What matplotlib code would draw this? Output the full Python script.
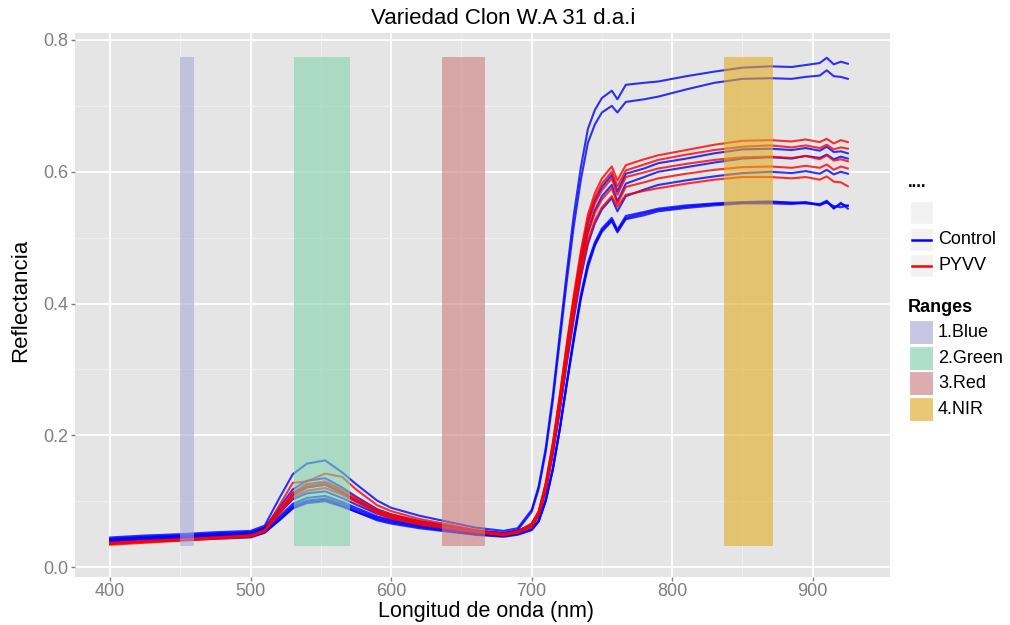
import matplotlib
matplotlib.use("Agg")
import matplotlib.pyplot as plt
from matplotlib.patches import Rectangle
from matplotlib.lines import Line2D

plt.rcParams['font.family'] = ['Liberation Sans', 'DejaVu Sans']

# wavelengths (nm) shared by every spectrum
wl = [400, 425, 450, 475, 500, 510, 520, 530, 540, 553, 565, 575, 590, 600, 620,
      640, 660, 680, 690, 700, 705, 710, 715, 720, 725, 730, 735, 740, 745, 750,
      757, 761, 767, 780, 790, 810, 830, 850, 870, 885, 895, 905, 910, 915, 920, 925]

# Control spectra
control = [
    [.045, .048, .050, .053, .055, .063, .103, .141, .157, .162, .144, .126, .101, .090, .078,
     .069, .060, .055, .059, .087, .123, .181, .260, .354, .448, .535, .607, .665, .694, .712,
     .723, .710, .732, .735, .737, .745, .752, .758, .760, .759, .762, .765, .773, .763, .767, .764],
    [.042, .045, .047, .050, .052, .060, .089, .118, .131, .135, .121, .107, .088, .080, .070,
     .063, .056, .052, .056, .084, .119, .175, .252, .343, .434, .518, .588, .644, .672, .690,
     .700, .690, .706, .710, .714, .725, .735, .741, .742, .741, .744, .746, .754, .745, .744, .741],
    [.040, .043, .045, .048, .050, .058, .084, .110, .121, .125, .113, .102, .085, .078, .068,
     .061, .054, .050, .054, .066, .083, .125, .184, .256, .333, .405, .470, .524, .556, .577,
     .595, .570, .597, .605, .613, .620, .628, .634, .635, .633, .636, .632, .638, .630, .631, .628],
    [.043, .046, .048, .051, .053, .060, .081, .103, .112, .115, .105, .095, .081, .075, .067,
     .061, .055, .051, .055, .064, .081, .122, .180, .249, .325, .394, .458, .510, .542, .563,
     .580, .555, .582, .592, .600, .607, .614, .620, .622, .620, .624, .621, .626, .619, .623, .620],
    [.041, .044, .046, .048, .050, .057, .076, .096, .105, .108, .099, .090, .077, .072, .064,
     .059, .053, .050, .054, .062, .078, .115, .170, .236, .309, .377, .440, .490, .522, .543,
     .560, .540, .563, .573, .580, .587, .593, .598, .600, .598, .601, .597, .603, .596, .600, .597],
    [.038, .041, .043, .045, .046, .053, .070, .089, .097, .100, .092, .084, .073, .068, .061,
     .055, .050, .047, .050, .057, .070, .101, .148, .209, .279, .347, .410, .458, .490, .511,
     .527, .510, .530, .537, .542, .547, .551, .553, .554, .553, .552, .551, .556, .545, .551, .548],
    [.036, .039, .041, .043, .045, .052, .071, .090, .099, .102, .093, .084, .071, .066, .059,
     .054, .049, .046, .049, .056, .069, .100, .147, .209, .280, .350, .413, .462, .493, .514,
     .530, .512, .533, .539, .544, .549, .552, .554, .555, .553, .554, .550, .553, .548, .546, .549],
    [.039, .042, .044, .046, .047, .054, .073, .093, .101, .104, .096, .087, .075, .070, .062,
     .057, .051, .048, .051, .058, .071, .102, .149, .210, .278, .344, .407, .455, .488, .509,
     .525, .508, .528, .534, .540, .545, .549, .552, .552, .551, .553, .549, .555, .544, .553, .544],
]

# PYVV spectra
pyvv = [
    [.036, .039, .042, .045, .048, .056, .092, .128, .130, .142, .137, .118, .094, .085, .073,
     .065, .056, .050, .054, .066, .085, .128, .188, .261, .340, .413, .480, .535, .568, .590,
     .608, .587, .610, .619, .625, .633, .641, .647, .648, .646, .649, .645, .650, .643, .648, .645],
    [.035, .038, .041, .044, .047, .055, .084, .113, .126, .130, .118, .105, .087, .080, .069,
     .061, .054, .049, .053, .065, .084, .126, .186, .258, .336, .408, .474, .528, .561, .582,
     .600, .578, .602, .611, .618, .626, .633, .638, .640, .637, .640, .636, .641, .634, .637, .635],
    [.036, .039, .041, .044, .047, .055, .082, .109, .121, .125, .113, .100, .083, .076, .066,
     .060, .053, .049, .053, .064, .083, .124, .183, .254, .330, .401, .466, .519, .552, .572,
     .590, .565, .592, .599, .605, .612, .618, .622, .623, .621, .624, .619, .625, .617, .619, .616],
    [.037, .040, .042, .045, .048, .055, .080, .106, .116, .120, .110, .099, .084, .078, .068,
     .061, .054, .050, .054, .063, .081, .121, .178, .247, .322, .391, .454, .506, .538, .558,
     .575, .552, .577, .584, .590, .597, .603, .607, .608, .606, .609, .606, .611, .603, .608, .605],
    [.034, .037, .040, .043, .046, .054, .083, .111, .124, .128, .115, .101, .082, .074, .065,
     .059, .053, .048, .052, .061, .079, .118, .175, .242, .315, .383, .445, .495, .526, .546,
     .563, .547, .565, .571, .575, .582, .588, .592, .592, .590, .592, .588, .593, .585, .584, .578],
]

# spectral ranges
range_names = ['1.Blue', '2.Green', '3.Red', '4.NIR']
range_lo = [450, 531, 636, 837]
range_hi = [460, 571, 667, 872]
range_colors = ['#a9a9d8', '#83d3ae', '#cf7f7f', '#e3ab22']
range_ybot, range_ytop = 0.032, 0.774

W, H = 1010, 625
fig = plt.figure(figsize=(W / 100, H / 100), dpi=100)
ax = fig.add_axes([75 / W, 1 - 577 / H, 815 / W, 544 / H])
ax.set_facecolor('#E5E5E5')

for s in control:
    ax.plot(wl, s, color='blue', lw=1.5, alpha=0.8, zorder=3)
for s in pyvv:
    ax.plot(wl, s, color='red', lw=1.5, alpha=0.8, zorder=3)

for lo, hi, c in zip(range_lo, range_hi, range_colors):
    ax.fill_between([lo, hi], range_ybot, range_ytop, color=c, alpha=0.6, lw=0, zorder=4)

ax.set_xlim(375, 955)
ax.set_ylim(-0.015, 0.8106)
ax.set_xticks([400, 500, 600, 700, 800, 900])
ax.set_xticks([450, 550, 650, 750, 850], minor=True)
ax.set_yticks([0.0, 0.2, 0.4, 0.6, 0.8])
ax.set_yticks([0.1, 0.3, 0.5, 0.7], minor=True)
ax.grid(which='major', color='white', lw=1.3)
ax.grid(which='minor', color='#F2F2F2', lw=0.6)
ax.set_axisbelow(True)
for sp in ax.spines.values():
    sp.set_visible(False)
ax.tick_params(which='major', colors='#7F7F7F', labelsize=13, length=3, width=1)
ax.tick_params(axis='x', pad=1)
ax.tick_params(axis='y', pad=2)
ax.tick_params(which='minor', length=0)
ax.set_yticklabels(['0.0', '0.2', '0.4', '0.6', '0.8'])


def px(x, y):
    return x / W, 1 - y / H


fig.text(*px(486, 611), 'Longitud de onda (nm)', fontsize=15.5, ha='center', va='center')
fig.text(*px(21, 300), 'Reflectancia', fontsize=16, ha='center', va='center',
         rotation=90)
fig.text(*px(503, 19), 'Variedad Clon W.A 31 d.a.i', fontsize=16,
         ha='center', va='center')


# legend drawn in pixel positions of the figure
def key_box(y0):
    x, y = px(910, y0 + 23)
    fig.add_artist(Rectangle((x, y), 23 / W, 23 / H, transform=fig.transFigure,
                             facecolor='#F2F2F2', edgecolor='white', lw=1))


fig.text(*px(908, 183), '....', fontsize=12, fontweight='bold', va='center')
key_box(201)
for y0, col, lab in [(228, 'blue', 'Control'), (254, 'red', 'PYVV')]:
    key_box(y0)
    x1, yl = px(912, y0 + 11.5)
    x2, _ = px(931, y0 + 11.5)
    fig.add_artist(Line2D([x1, x2], [yl, yl], transform=fig.transFigure, color=col, lw=1.8))
    fig.text(*px(938, y0 + 11.5), lab, fontsize=13, va='center')

fig.text(*px(908, 308), 'Ranges', fontsize=13, fontweight='bold', va='center')
for i, (name, c) in enumerate(zip(range_names, range_colors)):
    y0 = 321 + i * 25.7
    key_box(y0)
    x, y = px(910, y0 + 23)
    fig.add_artist(Rectangle((x, y), 23 / W, 23 / H, transform=fig.transFigure,
                             facecolor=c, alpha=0.6, lw=0))
    fig.text(*px(938, y0 + 11.5), name, fontsize=13, va='center')

fig.savefig('out.png', dpi=100)
